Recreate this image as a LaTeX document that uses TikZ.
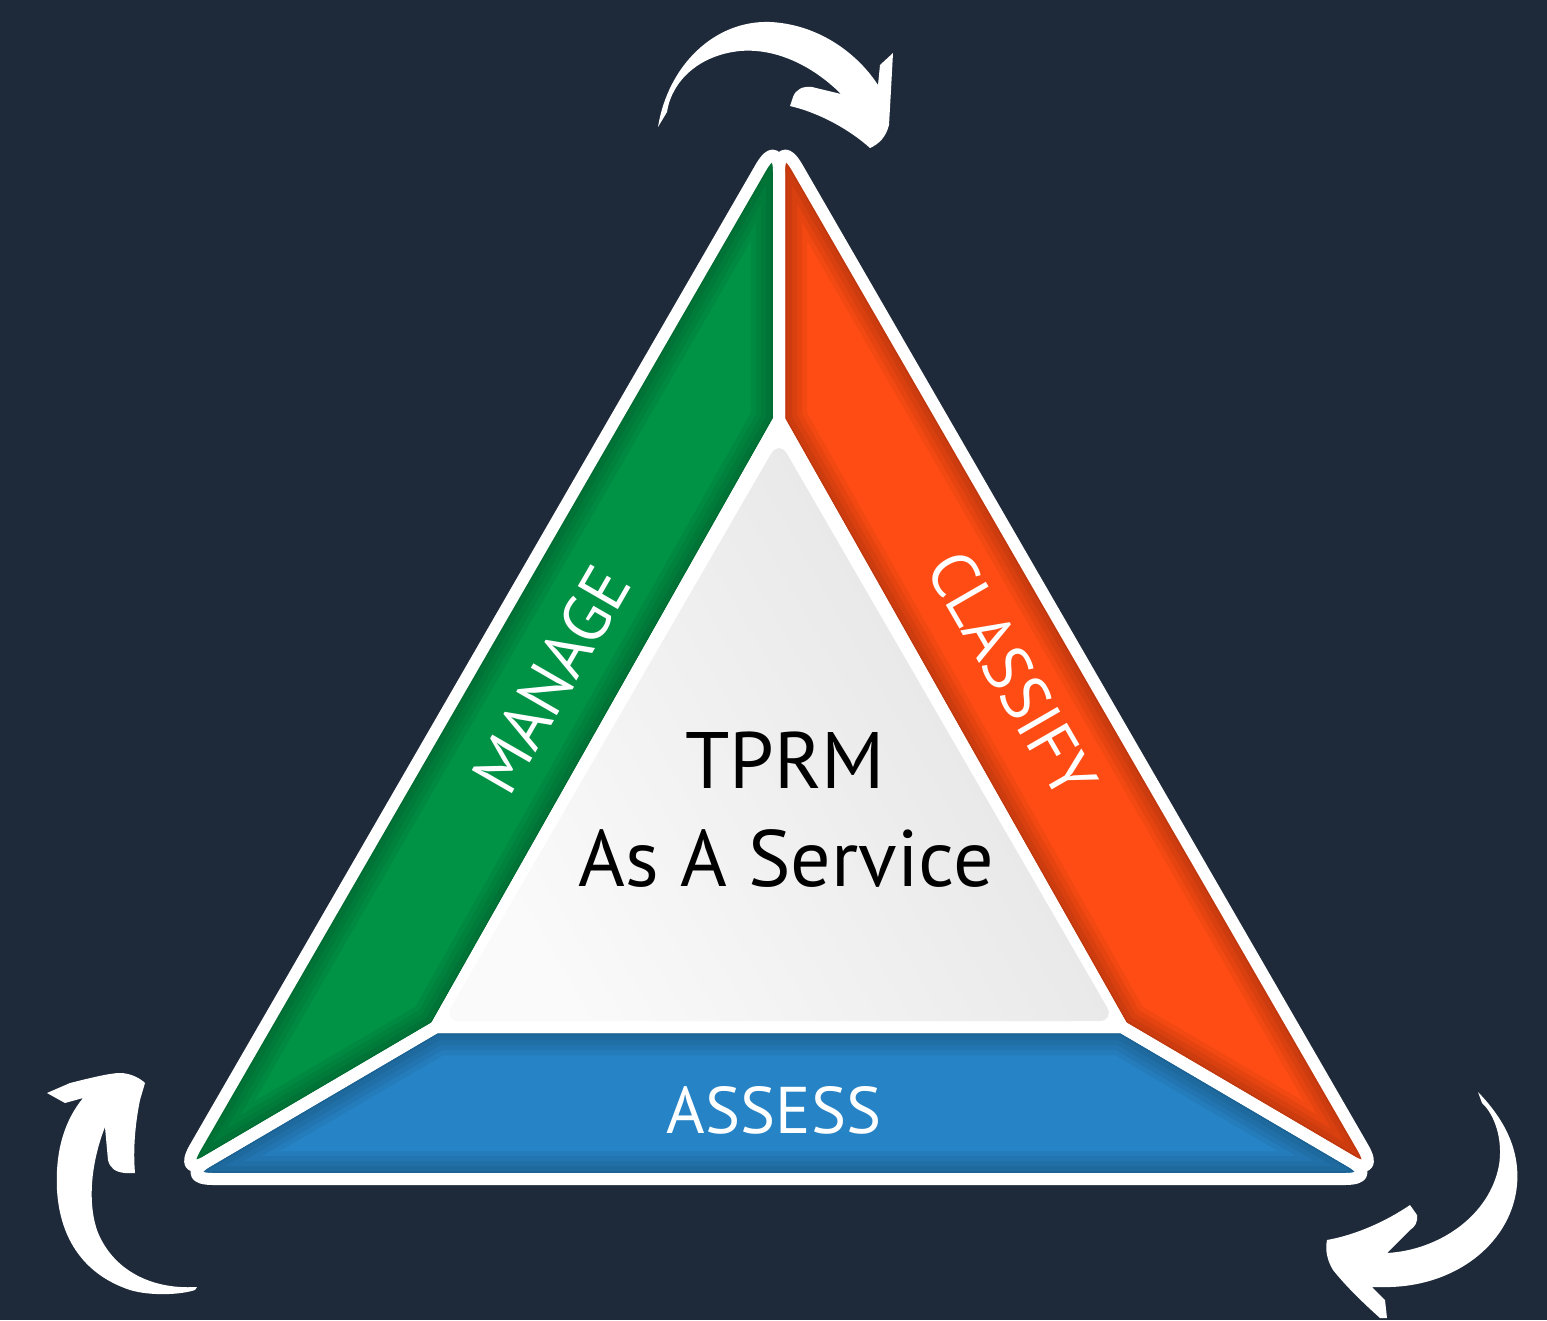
\documentclass[tikz,border=0pt]{standalone}
\usepackage{fontspec}
\usetikzlibrary{calc}
\setmainfont{PT Sans}
\definecolor{navy}{HTML}{1E2A3A}
\definecolor{mgreen}{HTML}{009245}
\definecolor{morange}{HTML}{FF4C14}
\definecolor{mblue}{HTML}{2683C6}
\begin{document}
\begin{tikzpicture}[x=1pt,y=-1pt,
    tip/.style n args={3}{insert path={-- ($(#2)!36pt!(#1)$)
      .. controls ($(#2)!16pt!(#1)$) and ($(#2)!16pt!(#3)$) .. ($(#2)!36pt!(#3)$)}},
    gpiece/.style={insert path={(it) -- (ibl) [tip={ibl}{obl}{ot}] [tip={obl}{ot}{it}] -- cycle}},
    opiece/.style={insert path={(it) [tip={it}{ot}{obr}] [tip={ot}{obr}{ibr}] -- (ibr) -- cycle}},
    bpiece/.style={insert path={(ibl) -- (ibr) [tip={ibr}{obr}{obl}] [tip={obr}{obl}{ibl}] -- cycle}},
    rim/.style={draw=white,line width=12,line join=round},
    shadow/.style={draw=black,opacity=.05,line width=#1},
    word/.style={text=white,inner sep=0pt,font=\fontsize{66}{66}\selectfont},
    centre/.style={text=black,inner sep=0pt,font=\fontsize{80}{80}\selectfont},
    swoosh/.style={fill=white}]
  \fill[navy] (0,0) rectangle (1547,1320);
  \useasboundingbox (0,0) rectangle (1547,1320);
  %
  \coordinate (ot) at (779,136);
  \coordinate (obl) at (177,1179);
  \coordinate (obr) at (1381,1179);
  \coordinate (it) at (779,420);
  \coordinate (ibl) at (436,1027);
  \coordinate (ibr) at (1122,1027);
  %
  \fill[mgreen] [gpiece];
  \fill[morange] [opiece];
  \fill[mblue] [bpiece];
  \begin{scope}
    \clip [gpiece];
    \foreach \w in {56,46,36,26,16} \path[shadow=\w] [gpiece];
  \end{scope}
  \begin{scope}
    \clip [opiece];
    \foreach \w in {56,46,36,26,16} \path[shadow=\w] [opiece];
  \end{scope}
  \begin{scope}
    \clip [bpiece];
    \foreach \w in {56,46,36,26,16} \path[shadow=\w] [bpiece];
  \end{scope}
  \path[rim] [gpiece];
  \path[rim] [opiece];
  \path[rim] [bpiece];
  %
  \fill[white,rim] (it) -- (ibr) -- (ibl) -- cycle;
  \shade[left color=black!11,right color=black!2,shading angle=-60,rounded corners=16]
    (779,440) -- (1115,1021) -- (443,1021) -- cycle;
  %
  \node[word,rotate=60] (manage) at (551,680) {MANAGE};
  \node[word,rotate=-60] (classify) at (1012,674) {CLASSIFY};
  \node[word] (assess) at (774,1110) {ASSESS};
  \node[centre] (tprm) at (785,760) {TPRM};
  \node[centre] (service) at (786,858) {As A Service};
  %
  \fill[swoosh] (658,127) .. controls (668,65) and (715,20) .. (770,22)
    .. controls (815,24) and (855,50) .. (878,85) -- (880,65) -- (893,53)
    -- (891,90) -- (889,125) .. controls (886,137) and (879,144) .. (870,148)
    .. controls (850,130) and (820,113) .. (790,106) -- (793,97)
    .. controls (796,89) and (803,86) .. (812,87) -- (841,94)
    .. controls (812,65) and (775,48) .. (740,51)
    .. controls (700,55) and (672,80) .. (667,112) -- cycle;
  \fill[swoosh] (47,1093) -- (70,1083) .. controls (90,1078) and (110,1073) .. (120,1073)
    .. controls (130,1073) and (140,1078) .. (145,1083) -- (140,1100)
    .. controls (135,1125) and (133,1150) .. (135,1173) -- (125,1173)
    .. controls (115,1172) and (110,1168) .. (108,1160) -- (105,1127)
    .. controls (92,1160) and (87,1200) .. (97,1230)
    .. controls (110,1265) and (145,1290) .. (197,1287) -- (195,1290)
    .. controls (180,1295) and (150,1296) .. (130,1290)
    .. controls (85,1275) and (60,1240) .. (57,1190)
    .. controls (55,1150) and (65,1120) .. (83,1098) -- (65,1103) -- cycle;
  \fill[swoosh] (1478,1092) .. controls (1505,1120) and (1520,1150) .. (1517,1185)
    .. controls (1512,1240) and (1460,1285) .. (1390,1287) -- (1372,1287)
    -- (1385,1300) -- (1387,1318) -- (1380,1318)
    .. controls (1360,1300) and (1345,1285) .. (1333,1270)
    .. controls (1327,1260) and (1325,1250) .. (1327,1240)
    .. controls (1355,1235) and (1385,1222) .. (1410,1205) -- (1417,1215)
    .. controls (1418,1222) and (1415,1227) .. (1410,1230) -- (1387,1253)
    .. controls (1440,1250) and (1490,1215) .. (1499,1165)
    .. controls (1503,1140) and (1495,1115) .. (1482,1103) -- cycle;
\end{tikzpicture}
\end{document}
